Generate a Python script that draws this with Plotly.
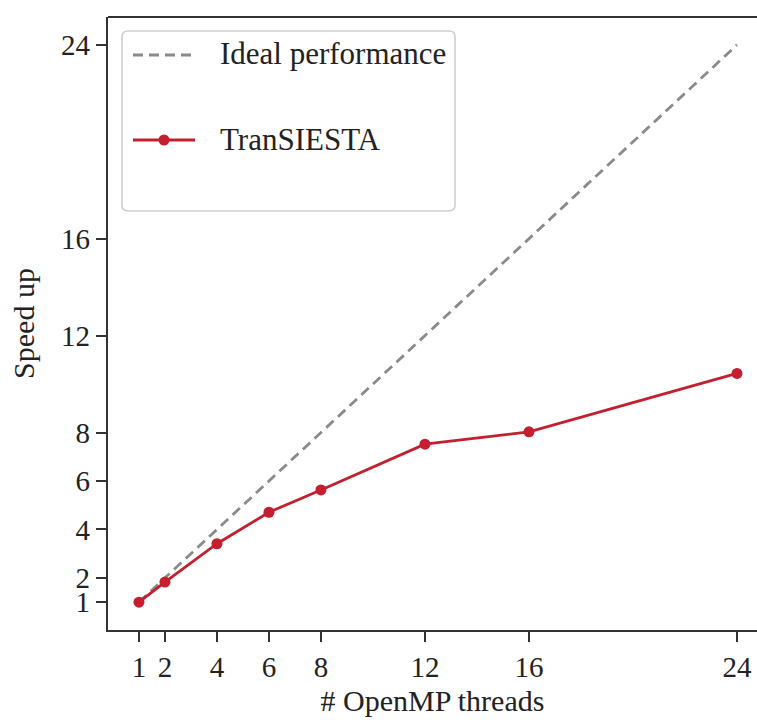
import plotly.graph_objects as go

# OpenMP scaling of TranSIESTA
threads = [1, 2, 4, 6, 8, 12, 16, 24]
speedup = [1.0, 1.83, 3.41, 4.71, 5.63, 7.52, 8.03, 10.44]
ideal = threads[:]  # perfect linear scaling
tick_vals = [1, 2, 4, 6, 8, 12, 16, 24]
tick_text = [str(v) for v in tick_vals]

RED = "#c41e2f"
GREY = "#8a8a8a"
AXIS = "#333333"
FONT = "'Times New Roman', 'Liberation Serif', Tinos, 'DejaVu Serif', serif"

W, H = 757, 720
ML, MR, MT, MB = 108, 0, 17, 90

fig = go.Figure()
fig.add_trace(go.Scatter(
    x=threads, y=ideal, mode="lines", name="Ideal performance",
    line=dict(color=GREY, width=2.8, dash="10px,6px"), showlegend=False,
))
fig.add_trace(go.Scatter(
    x=threads, y=speedup, mode="lines+markers", name="TranSIESTA",
    line=dict(color=RED, width=2.8),
    marker=dict(color=RED, size=11, line=dict(width=0)), showlegend=False,
))

# hand-built legend box (pixel layout converted to paper fractions)
pw, ph = W - ML - MR, H - MT - MB
def px(x):
    return (x - ML) / pw
def py(y):
    return (H - MB - y) / ph

x0, x1, y0, y1, r = 122, 455, 31, 211, 6
box = (f"M {px(x0 + r)} {py(y0)} L {px(x1 - r)} {py(y0)} "
       f"Q {px(x1)} {py(y0)} {px(x1)} {py(y0 + r)} "
       f"L {px(x1)} {py(y1 - r)} Q {px(x1)} {py(y1)} {px(x1 - r)} {py(y1)} "
       f"L {px(x0 + r)} {py(y1)} Q {px(x0)} {py(y1)} {px(x0)} {py(y1 - r)} "
       f"L {px(x0)} {py(y0 + r)} Q {px(x0)} {py(y0)} {px(x0 + r)} {py(y0)} Z")
shapes = [
    # top spine (the right spine falls outside the visible area)
    dict(type="line", xref="paper", yref="paper", layer="above",
         x0=0, x1=1, y0=1, y1=1, line=dict(color=AXIS, width=2.2)),
    dict(type="path", path=box, xref="paper", yref="paper", layer="above",
         fillcolor="rgba(255,255,255,0.85)", line=dict(color="#cfcfcf", width=1.6)),
    dict(type="line", xref="paper", yref="paper", layer="above",
         x0=px(133), x1=px(195), y0=py(55), y1=py(55),
         line=dict(color=GREY, width=2.8, dash="10px,6px")),
    dict(type="line", xref="paper", yref="paper", layer="above",
         x0=px(133), x1=px(195), y0=py(140), y1=py(140),
         line=dict(color=RED, width=2.8)),
    dict(type="circle", xref="paper", yref="paper", layer="above",
         x0=px(164 - 5.5), x1=px(164 + 5.5), y0=py(140 + 5.5), y1=py(140 - 5.5),
         fillcolor=RED, line=dict(width=0)),
]
annotations = [
    dict(text="Ideal performance", xref="paper", yref="paper", x=px(218), y=py(54),
         xanchor="left", yanchor="middle", showarrow=False,
         font=dict(family=FONT, size=31, color="#222222")),
    dict(text="TranSIESTA", xref="paper", yref="paper", x=px(218), y=py(139),
         xanchor="left", yanchor="middle", showarrow=False,
         font=dict(family=FONT, size=31, color="#222222")),
]

axis_common = dict(
    tickmode="array", tickvals=tick_vals, ticktext=tick_text,
    ticks="outside", ticklen=10, tickwidth=2, tickcolor=AXIS,
    showline=True, linewidth=2.2, linecolor=AXIS, mirror=False,
    showgrid=False, zeroline=False,
    tickfont=dict(family=FONT, size=29, color="#222222"),
)

fig.update_layout(
    width=W, height=H,
    margin=dict(l=ML, r=MR, t=MT, b=MB, pad=0),
    paper_bgcolor="white", plot_bgcolor="white",
    xaxis=dict(axis_common, range=[-0.19, 24.77],
               title=dict(text="# OpenMP threads", standoff=8,
                          font=dict(family=FONT, size=30, color="#222222"))),
    yaxis=dict(axis_common, range=[-0.15, 25.15],
               title=dict(text="Speed up", standoff=18,
                          font=dict(family=FONT, size=30, color="#222222"))),
    shapes=shapes, annotations=annotations,
)

fig.write_html("out.html")
